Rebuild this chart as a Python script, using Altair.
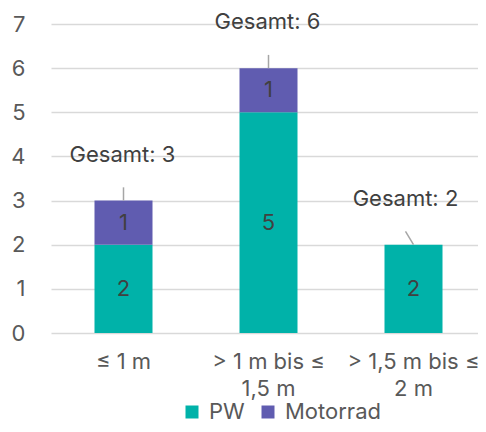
import altair as alt
import pandas as pd

categories = ["≤ 1 m", "> 1 m bis ≤\n1,5 m", "> 1,5 m bis ≤\n2 m"]
types = ["PW", "Motorrad"]
pw_values = [2, 5, 2]
motorrad_values = [1, 1, 0]
colors = ["#00B2A9", "#605CB0"]
y_ticks = [0, 1, 2, 3, 4, 5, 6, 7]

rows = []
for i, c in enumerate(categories):
    for j, (t, vals) in enumerate(zip(types, [pw_values, motorrad_values])):
        rows.append({"cat": c, "type": t, "ord": j, "value": vals[i]})
df = pd.DataFrame(rows)

tot = pd.DataFrame({
    "cat": categories,
    "total": [a + b for a, b in zip(pw_values, motorrad_values)],
})
tot["label"] = ["Gesamt: " + str(v) for v in tot["total"]]

FONT = "Inter"
FS = 22

x_enc = alt.X(
    "cat:N",
    sort=categories,
    title=None,
    scale=alt.Scale(paddingInner=0.6, paddingOuter=0.3),
    axis=alt.Axis(
        labelAngle=0,
        labelExpr="split(datum.label, '\\n')",
        labelFont=FONT,
        labelFontSize=FS,
        labelColor="#595959",
        labelLineHeight=27,
        labelPadding=18,
        domain=False,
        ticks=False,
        grid=False,
        labelLimit=300,
    ),
)
y_scale = alt.Scale(domain=[0, 7], nice=False)

base = alt.Chart(df)

bars = base.transform_stack(
    stack="value", groupby=["cat"], as_=["y0", "y1"], sort=[alt.SortField("ord")]
).mark_bar().encode(
    x=x_enc,
    y=alt.Y(
        "y0:Q",
        scale=y_scale,
        title=None,
        axis=alt.Axis(
            values=y_ticks,
            labelFont=FONT,
            labelFontSize=FS,
            labelColor="#595959",
            labelPadding=26,
            domain=False,
            ticks=False,
            gridColor="#D9D9D9",
            gridWidth=1.5,
        ),
    ),
    y2="y1:Q",
    color=alt.Color(
        "type:N",
        scale=alt.Scale(domain=types, range=colors),
        sort=types,
        legend=alt.Legend(
            title=None,
            orient="none",
            direction="horizontal",
            legendX=130,
            legendY=377,
            symbolType="square",
            symbolSize=169,
            symbolStrokeWidth=0,
            symbolOpacity=1,
            labelFont=FONT,
            labelFontSize=FS,
            labelColor="#595959",
            labelOffset=6,
            columnPadding=12,
        ),
    ),
)

seg_text = base.transform_filter("datum.value > 0").transform_stack(
    stack="value", groupby=["cat"], as_=["y0", "y1"], sort=[alt.SortField("ord")]
).transform_calculate(mid="(datum.y0 + datum.y1) / 2").mark_text(
    font=FONT, fontSize=FS, color="#404040", baseline="middle"
).encode(
    x=alt.X("cat:N", sort=categories),
    y=alt.Y("mid:Q", scale=y_scale),
    text="value:Q",
)

tbase = alt.Chart(tot).transform_calculate(top="datum.total + 0.3")

lead_a = tbase.transform_filter(alt.FieldOneOfPredicate("cat", categories[:2])).mark_rule(
    color="#A6A6A6", strokeWidth=1.5
).encode(
    x=alt.X("cat:N", sort=categories),
    y=alt.Y("total:Q", scale=y_scale),
    y2="top:Q",
)
lead_b = tbase.transform_filter(alt.FieldOneOfPredicate("cat", categories[2:])).mark_rule(
    color="#A6A6A6", strokeWidth=1.5, x2Offset=-8
).encode(
    x=alt.X("cat:N", sort=categories),
    x2=alt.X2("cat:N"),
    y=alt.Y("total:Q", scale=y_scale),
    y2="top:Q",
)

tot_a = tbase.transform_filter(alt.FieldOneOfPredicate("cat", categories[:2])).mark_text(
    font=FONT, fontSize=FS, color="#404040", baseline="middle", dy=-46, dx=-1
).encode(
    x=alt.X("cat:N", sort=categories),
    y=alt.Y("total:Q", scale=y_scale),
    text="label:N",
)
tot_b = tbase.transform_filter(alt.FieldOneOfPredicate("cat", categories[2:])).mark_text(
    font=FONT, fontSize=FS, color="#404040", baseline="middle", dy=-46, dx=-8
).encode(
    x=alt.X("cat:N", sort=categories),
    y=alt.Y("total:Q", scale=y_scale),
    text="label:N",
)

chart = alt.layer(bars, seg_text, lead_a, lead_b, tot_a, tot_b).properties(
    width=435,
    height=309,
    autosize=alt.AutoSizeParams(type="none"),
    padding={"left": 43, "top": 16, "right": -8, "bottom": 91},
).configure_view(stroke=None)

chart.save("out.html", embed_options={"renderer": "svg", "actions": False})
